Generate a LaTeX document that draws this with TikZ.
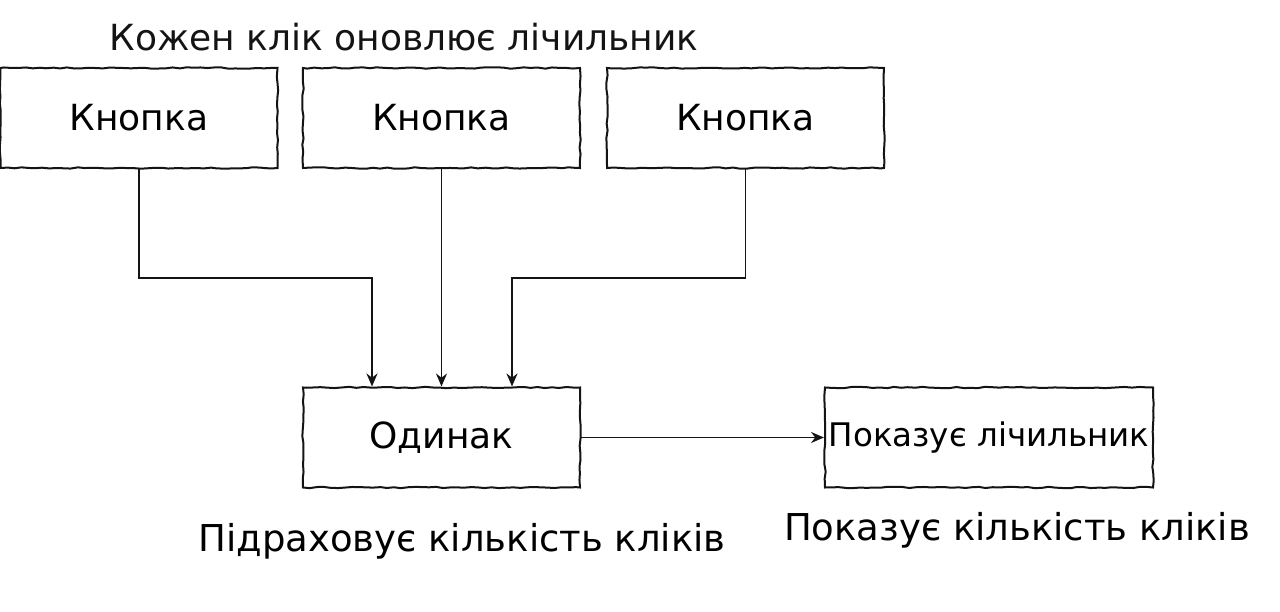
\documentclass[tikz,border=0pt]{standalone}
\usepackage{fontspec}
\setmainfont{DejaVu Sans}
\usepackage{tikz}
\usetikzlibrary{arrows.meta, positioning, calc, decorations.pathmorphing}
\usepackage{xcolor}
\definecolor{inkblack}{RGB}{20,20,20}

\tikzset{
  sketchbox/.style={draw=inkblack, line width=2pt, minimum width=277pt, minimum height=100pt,
    inner sep=0pt, decorate, decoration={random steps, segment length=7pt, amplitude=0.7pt}},
  wire/.style={inkblack, line width=1.8pt, -{Stealth[length=13pt,width=11pt]}},
  bigtxt/.style={font=\fontsize{36}{42}\selectfont},
  notetxt/.style={font=\fontsize{37}{42}\selectfont},
  midtxt/.style={font=\fontsize{32.5}{38}\selectfont}
}

\begin{document}
\begin{tikzpicture}[x=1pt, y=-1pt]
  \useasboundingbox (0,0) rectangle (1280,612);
  % buttons on top
  \node[bigtxt, text=inkblack] (title) at (404,37) {Кожен клік оновлює лічильник};
  \node[sketchbox, bigtxt] (btnA) at (139,118) {Кнопка};
  \node[sketchbox, bigtxt] (btnB) at (441.5,118) {Кнопка};
  \node[sketchbox, bigtxt] (btnC) at (745.5,118) {Кнопка};
  % state and display
  \node[sketchbox, bigtxt] (cnt) at (441.5,437.5) {Одинак};
  \node[sketchbox, midtxt, minimum width=328pt] (disp) at (989,437.5) {Показує лічильник};
  \node[notetxt] (cntnote) at (462,541) {Підраховує кількість кліків};
  \node[notetxt] (dispnote) at (1017,530) {Показує кількість кліків};
  % connectors
  \draw[wire] (btnA.south) -- ++(0,109) -| ($(cnt.north west)+(70,0)$);
  \draw[wire] (btnB.south) -- (cnt.north);
  \draw[wire] (btnC.south) -- ++(0,109) -| ($(cnt.north west)+(210,0)$);
  \draw[wire] (cnt.east) -- (disp.west);
\end{tikzpicture}
\end{document}
